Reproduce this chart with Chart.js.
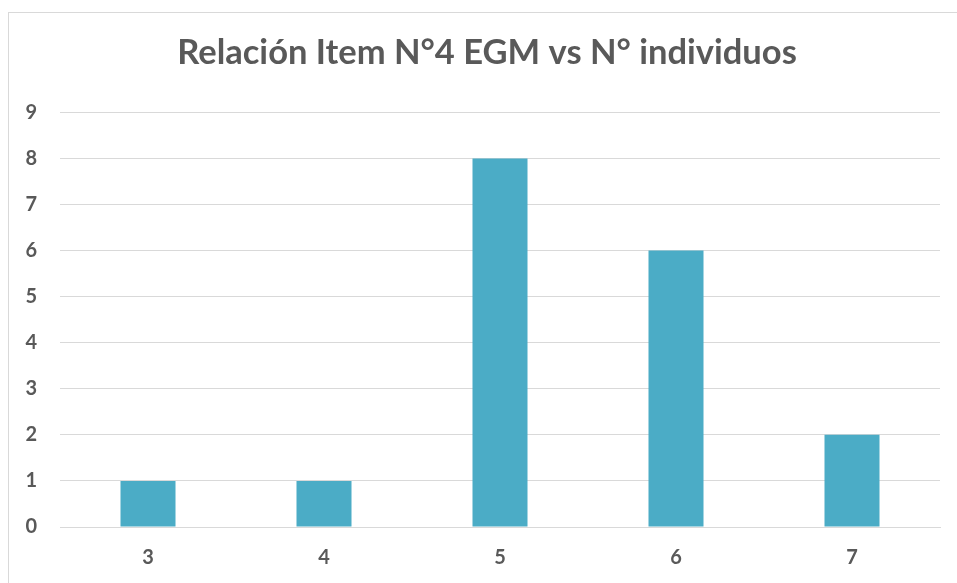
<!DOCTYPE html>
<html>
<head>
<meta charset="utf-8">
<script src="https://cdn.jsdelivr.net/npm/chart.js@4"></script>
<style>
  html, body { margin: 0; padding: 0; background: #fff; }
  body { width: 957px; height: 583px; position: relative; overflow: hidden; }
  #frame { position: absolute; left: 8px; top: 12px; width: 1000px; height: 700px; border: 1px solid #d9d9d9; box-sizing: border-box; }
  #wrap { position: absolute; left: 0; top: 0; width: 957px; height: 583px; }
</style>
</head>
<body>
<div id="frame"></div>
<div id="wrap"><canvas id="c" width="957" height="583"></canvas></div>
<script>
// Puntaje del ítem N°4 (EGM) y número de individuos por puntaje
const categories = ['3', '4', '5', '6', '7'];
const individuos = [1, 1, 8, 6, 2];
const yTicks = [0, 1, 2, 3, 4, 5, 6, 7, 8, 9];

const textColor = '#595959';
const fontFamily = 'Lato, "Open Sans", sans-serif';

// Centre the title on the framed panel rather than on the canvas
const titleShift = {
  id: 'titleShift',
  afterLayout(chart) {
    const t = chart.titleBlock;
    if (t) { t.left += 17; t.right += 17; }
  }
};

new Chart(document.getElementById('c'), {
  type: 'bar',
  data: {
    labels: categories,
    datasets: [{
      data: individuos,
      backgroundColor: '#4BACC6',
      borderWidth: 0,
      categoryPercentage: 1,
      barPercentage: 0.3125
    }]
  },
  plugins: [titleShift],
  options: {
    responsive: false,
    animation: false,
    layout: { padding: { left: 0, right: 17, top: 0, bottom: 0 } },
    plugins: {
      legend: { display: false },
      tooltip: { enabled: false },
      title: {
        display: true,
        text: 'Relación Item N°4 EGM vs N° individuos',
        color: textColor,
        font: { family: fontFamily, size: 34.5, weight: 'bold' },
        padding: { top: 32, bottom: 39 }
      }
    },
    scales: {
      x: {
        grid: { display: false, drawTicks: false },
        border: { display: true, color: '#d9d9d9', width: 1 },
        ticks: { color: textColor, font: { family: fontFamily, size: 20, weight: 'bold' }, padding: 19 },
        afterFit: s => { s.height = 56; }
      },
      y: {
        min: 0,
        max: 9,
        afterBuildTicks: s => { s.ticks = yTicks.map(v => ({ value: v })); },
        grid: { color: '#d9d9d9', lineWidth: 1, drawTicks: false },
        border: { display: false },
        ticks: { color: textColor, font: { family: fontFamily, size: 20, weight: 'bold' }, padding: 23 },
        afterFit: s => { s.width = 60; }
      }
    }
  }
});
</script>
</body>
</html>
